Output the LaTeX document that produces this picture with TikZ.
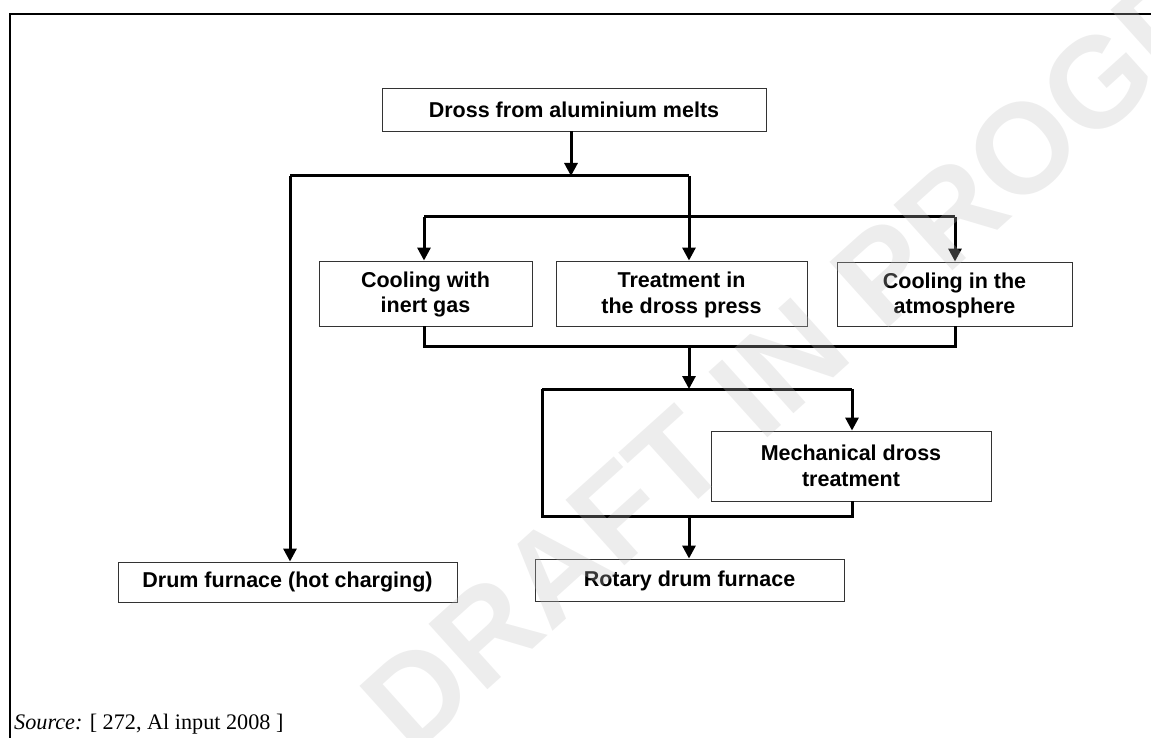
\documentclass[tikz,border=0pt]{standalone}
\usepackage{fontspec}
\setmainfont{Liberation Serif}
\setsansfont{Liberation Sans}
\usetikzlibrary{arrows.meta}
\begin{document}
\begin{tikzpicture}[x=1pt,y=-1pt,
  box/.style={draw=black!80, line width=0.9pt, fill=white, inner sep=0pt, align=center,
    font=\sffamily\bfseries\fontsize{21.5}{25.5}\selectfont},
  conn/.style={line width=3pt, line join=miter},
  arr/.style={-{Triangle[length=13pt,width=13pt]}},
  frame/.style={line width=2pt}]
\useasboundingbox (0,0) rectangle (1151,738);
\draw[frame] (10,738) -- (10,14) -- (1151,14);

% boxes
\node[box, minimum width=384pt, minimum height=43pt] (dross) at (574,109.5) {Dross from aluminium melts};
\node[box, minimum width=339pt, minimum height=40pt] (drum) at (287.5,582) {Drum furnace (hot charging)};
\node[box, minimum width=213pt, minimum height=65pt] (cool) at (425.5,293.5) {\rule{0pt}{18pt}Cooling with\\inert gas};
\node[box, minimum width=251pt, minimum height=65pt] (treat) at (681.5,293.5) {\rule{0pt}{18pt}Treatment in\\the dross press};
\node[box, minimum width=235pt, minimum height=64pt] (atmo) at (954.5,294) {\rule{0pt}{18pt}Cooling in the\\atmosphere};
\node[box, minimum width=280pt, minimum height=70pt] (mech) at (851,466) {Mechanical dross\\[1pt]treatment};
\node[box, minimum width=309pt, minimum height=42pt] (rot) at (689.5,580) {\rule{0pt}{17pt}Rotary drum furnace};

% junction coordinates
\coordinate (jA) at (571,176);
\coordinate (jL) at (290,176);
\coordinate (jR) at (689,176);
\coordinate (kL) at (424,217);
\coordinate (kR) at (955,217);
\coordinate (mL) at (424,346);
\coordinate (mC) at (689,346);
\coordinate (mR) at (955,346);
\coordinate (nL) at (542,389);
\coordinate (nC) at (689,389);
\coordinate (nR) at (852,389);
\coordinate (pL) at (542,516);
\coordinate (pC) at (689,516);
\coordinate (pR) at (852,516);

% connectors
\draw[conn, arr] (dross.south -| jA) -- (jA);
\draw[conn] (jL) -- (jR);
\draw[conn, arr] (jL) -- (jL |- drum.north);
\draw[conn, arr] (jR) -- (jR |- treat.north);
\draw[conn] (kL) -- (kR);
\draw[conn, arr] (kL) -- (kL |- cool.north);
\draw[conn, arr] (kR) -- (kR |- atmo.north);
\draw[conn] (cool.south -| mL) -- (mL) -- (mR) -- (atmo.south -| mR);
\draw[conn, arr] (mC) -- (nC);
\draw[conn] (nL) -- (nR);
\draw[conn, arr] (nR) -- (nR |- mech.north);
\draw[conn] (mech.south -| pR) -- (pR) -- (pL) -- (nL);
\draw[conn, arr] (pC) -- (pC |- rot.north);

% source
\node[anchor=base west, inner sep=0pt, font=\fontsize{22.2}{27}\selectfont] (src) at (14,729) {\textit{Source:} [ 272, Al input 2008 ]};

% watermark
\node[rotate=42, text=black!25, text opacity=0.28, inner sep=0pt,
  font=\sffamily\bfseries\fontsize{128}{128}\selectfont] (wm) at (888,270) {DRAFT IN PROGRESS};
\end{tikzpicture}
\end{document}
